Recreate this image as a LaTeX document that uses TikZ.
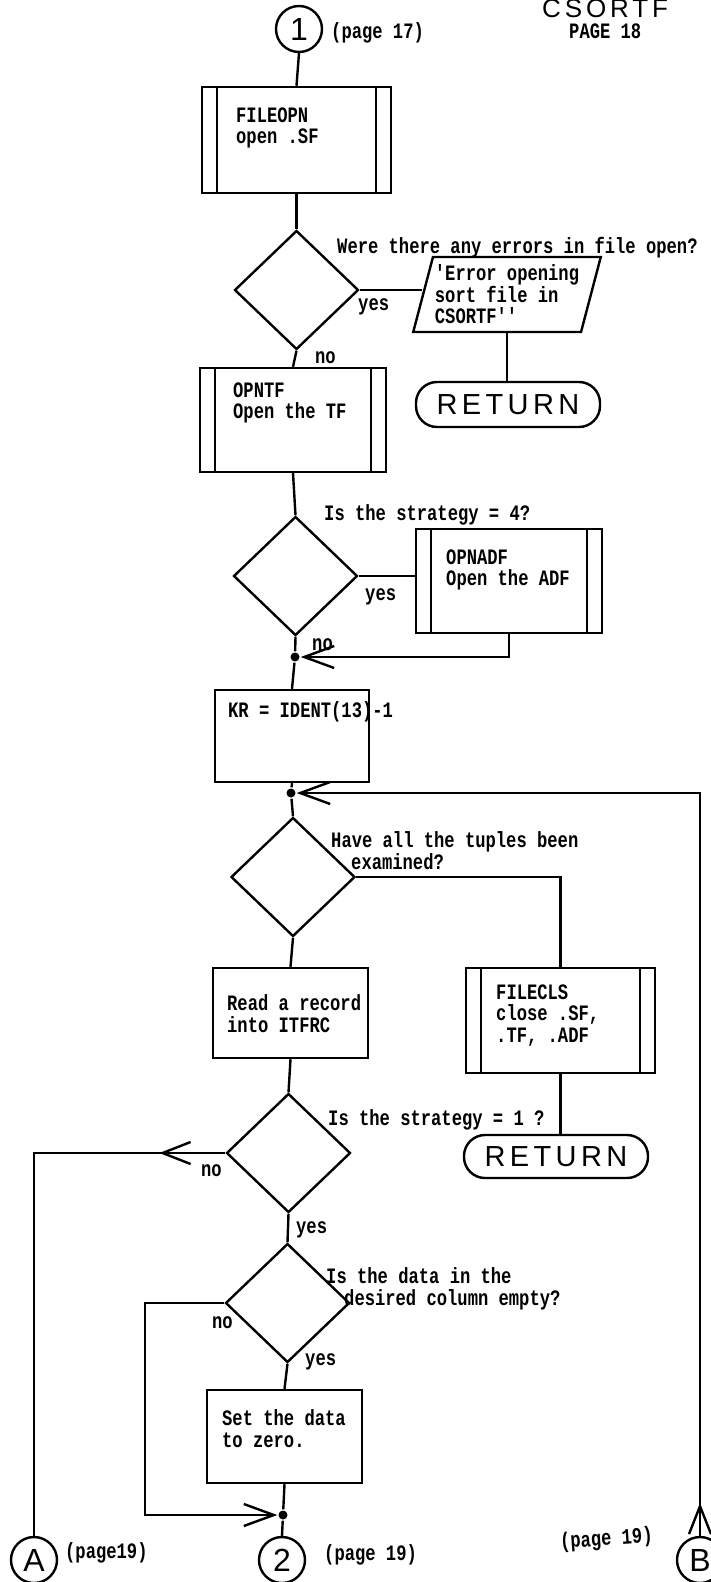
\documentclass[tikz,border=0pt]{standalone}
\usepackage{fontspec}
\newfontfamily\typer{Liberation Mono}[FakeStretch=0.78]
\newfontfamily\lettering{Liberation Sans}[LetterSpace=15]
\newfontfamily\template{Liberation Sans}
\usetikzlibrary{shapes.geometric, arrows.meta, decorations.markings}

\begin{document}
\begin{tikzpicture}[
  x=1pt, y=-1pt,
  line width=2.4pt,
  every node/.style={inner sep=0pt},
  words/.style={font=\typer\bfseries\fontsize{22}{21.5}\selectfont, align=left},
  box/.style={draw, rectangle},
  subproc/.style={box,
    path picture={
      \draw[line width=2.4pt] ([xshift=15pt]path picture bounding box.north west) -- ([xshift=15pt]path picture bounding box.south west);
      \draw[line width=2.4pt] ([xshift=-15pt]path picture bounding box.north east) -- ([xshift=-15pt]path picture bounding box.south east);
    }},
  decision/.style={diamond, draw, minimum width=124pt, minimum height=119pt},
  io/.style={trapezium, trapezium left angle=72, trapezium right angle=108, trapezium stretches=true, draw, words},
  terminal/.style={draw, rectangle, rounded corners=21pt, font=\lettering\fontsize{29}{29}\selectfont},
  conn/.style={circle, draw, minimum size=46pt, font=\template\fontsize{32}{32}\selectfont},
  dot/.style={circle, fill, minimum size=9pt},
  into/.style={-{Straight Barb[length=30pt, width=22pt]}},
  midarrow/.style={postaction={decorate}, decoration={markings,
    mark=at position #1 with {\arrow{Straight Barb[length=28pt, width=22pt]}}}}
]
\useasboundingbox (0,0) rectangle (710,1582);
\fill[white] (0,0) rectangle (710,1582);

% page heading
\node[font=\lettering\fontsize{26}{26}\selectfont, anchor=base west] (title) at (541,17) {CSORTF};
\node[words, anchor=west] (pageno) at (568,31) {PAGE 18};

% entry from page 17
\node[conn] (c1) at (299,29) {1};
\node[words, anchor=west] (c1-pg) at (330,33) {(page 17)};

% open the sort file
\node[subproc, minimum width=189pt, minimum height=106pt] (fileopn) at (296.5,140) {};
\node[words, anchor=north west] (fileopn-t) at (235,106.5) {FILEOPN\\open .SF};

\node[decision] (d1) at (296.5,290) {};
\node[words, anchor=west] (d1-q) at (336,248) {Were there any errors in file open?};
\node[io, minimum width=188pt, minimum height=75pt] (err) at (507,294.5) {'Error opening\\sort file in\\CSORTF''};
\node[words, anchor=west] (d1-yes) at (357,307) {yes};
\node[words, anchor=west] (d1-no) at (314,358) {no};
\node[terminal, minimum width=184pt, minimum height=45pt] (ret1) at (508,404.5) {RETURN};

% open the TF, and the ADF for strategy 4
\node[subproc, minimum width=186pt, minimum height=104pt] (opntf) at (293,420) {};
\node[words, anchor=north west] (opntf-t) at (232,381.5) {OPNTF\\Open the TF};

\node[decision] (d2) at (295.5,576) {};
\node[words, anchor=west] (d2-q) at (323,515) {Is the strategy = 4?};
\node[subproc, minimum width=186pt, minimum height=104pt] (opnadf) at (509,581) {};
\node[words, anchor=north west] (opnadf-t) at (445,548.5) {OPNADF\\Open the ADF};
\node[words, anchor=west] (d2-yes) at (364,597) {yes};
\node[words, anchor=west] (d2-no) at (311,645) {no};
\node[dot] (j1) at (295,657) {};

\node[box, minimum width=154pt, minimum height=92pt] (kr) at (292,736) {};
\node[words, anchor=north west] (kr-t) at (227,700) {KR = IDENT(13)-1};
\node[dot] (j2) at (291,793) {};

% loop over the tuples
\node[decision] (d3) at (293,877) {};
\node[words, anchor=north west] (d3-q) at (330,830.5) {Have all the tuples been\\\hspace*{20pt}examined?};
\node[box, minimum width=155pt, minimum height=90pt] (read) at (290.5,1013) {};
\node[words, anchor=north west] (read-t) at (226,993.5) {Read a record\\into ITFRC};
\node[subproc, minimum width=189pt, minimum height=105pt] (fclose) at (560.5,1020.5) {};
\node[words, anchor=north west] (fclose-t) at (495,983.5) {FILECLS\\close .SF,\\.TF, .ADF};
\node[terminal, minimum width=184pt, minimum height=43pt] (ret2) at (556,1156.5) {RETURN};

\node[decision] (d4) at (288.5,1153) {};
\node[words, anchor=west] (d4-q) at (327,1120) {Is the strategy = 1 ?};
\node[words, anchor=west] (d4-no) at (200,1171) {no};
\node[words, anchor=west] (d4-yes) at (295,1230) {yes};

\node[decision] (d5) at (287.5,1303) {};
\node[words, anchor=north west] (d5-q) at (325,1266.5) {Is the data in the\\\hspace*{18pt}desired column empty?};
\node[words, anchor=west] (d5-no) at (211,1323) {no};
\node[words, anchor=west] (d5-yes) at (304,1362) {yes};

\node[box, minimum width=155pt, minimum height=93pt] (setz) at (284.5,1436.5) {};
\node[words, anchor=north west] (setz-t) at (221,1408.5) {Set the data\\to zero.};
\node[dot] (j5) at (283,1515) {};
\coordinate (nocorner) at (145,1515);

% exits to page 19
\node[conn] (ca) at (34,1560) {A};
\node[words, anchor=west] (ca-pg) at (64,1553) {(page19)};
\node[conn] (c2) at (282,1560) {2};
\node[words, anchor=west] (c2-pg) at (323,1555) {(page 19)};
\node[conn] (cb) at (700,1560) {B};
\node[words, anchor=west, rotate=4] (cb-pg) at (559,1543) {(page 19)};

% connectors
\draw (c1.south) -- (fileopn.north);
\draw (fileopn.south) -- (d1.north);
\draw (d1.east) -- (d1.east -| err.west);
\draw (err.south) -- (err.south |- ret1.north);
\draw (d1.south) -- (opntf.north);
\draw (opntf.south) -- (d2.north);
\draw (d2.east) -- (d2.east -| opnadf.west);
\draw[into] (opnadf.south) |- (j1);
\draw (d2.south) -- (j1) -- (kr.north);
\draw (kr.south) -- (j2) -- (d3.north);
\draw[into, midarrow=33pt] (cb.north) |- (j2);
\draw (d3.east) -| (fclose.north);
\draw (fclose.south) -- (fclose.south |- ret2.north);
\draw (d3.south) -- (read.north);
\draw (read.south) -- (d4.north);
\draw[midarrow=66pt] (d4.west) -| (ca.north);
\draw (d4.south) -- (d5.north);
\draw (d5.south) -- (setz.north);
\draw[into] (d5.west) -| (nocorner) -- (j5);
\draw (setz.south) -- (j5) -- (c2.north);

\end{tikzpicture}
\end{document}
